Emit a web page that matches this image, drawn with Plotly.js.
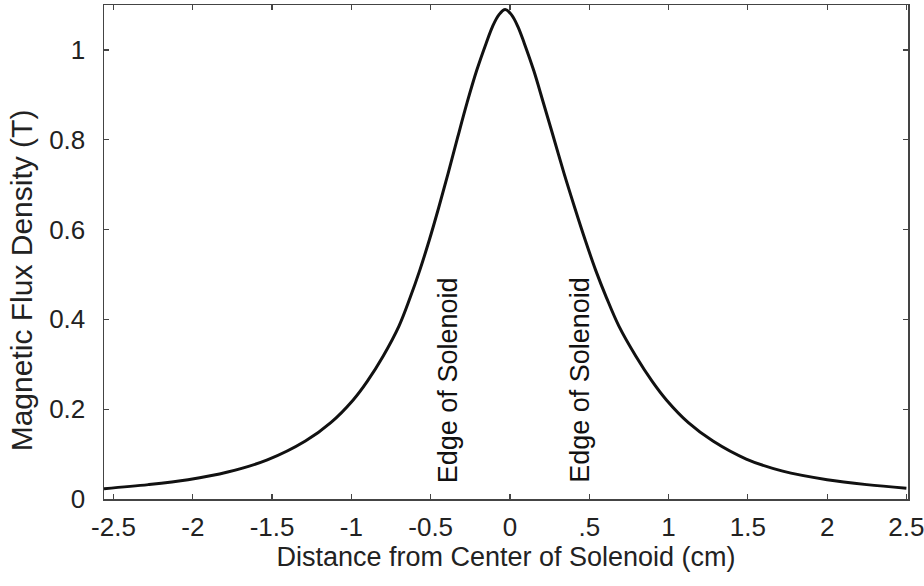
<!DOCTYPE html>
<html>
<head>
<meta charset="utf-8">
<script src="https://cdn.plot.ly/plotly-3.0.1.min.js"></script>
<style>html,body{margin:0;padding:0;background:#fff;}#chart{width:924px;height:586px;}</style>
</head>
<body>
<div id="chart"></div>
<script>
const distanceCm = [-2.56,-2.28,-2.03,-1.78,-1.53,-1.29,-1.13,-0.99,-0.90,-0.80,-0.70,-0.63,-0.57,-0.51,-0.45,-0.39,-0.33,-0.27,-0.21,-0.15,-0.11,-0.07,-0.03,
                    0.01,0.05,0.09,0.15,0.21,0.275,0.341,0.409,0.476,0.542,0.609,0.687,0.794,0.897,0.988,1.125,1.28,1.49,1.72,2.00,2.25,2.50];
const fluxDensityT = [0.023,0.032,0.043,0.060,0.087,0.129,0.170,0.220,0.262,0.318,0.385,0.448,0.508,0.575,0.648,0.725,0.805,0.883,0.954,1.015,1.052,1.078,1.090,
                      1.078,1.052,1.015,0.954,0.883,0.805,0.725,0.648,0.575,0.508,0.448,0.385,0.318,0.262,0.220,0.170,0.129,0.089,0.062,0.043,0.032,0.024];
const xTickVals = [-2.5,-2,-1.5,-1,-0.5,0,0.5,1,1.5,2,2.5];
const xTickText = ['-2.5','-2','-1.5','-1','-0.5','0','.5','1','1.5','2','2.5'];
const yTickVals = [0,0.2,0.4,0.6,0.8,1];
const yTickText = ['0','0.2','0.4','0.6','0.8','1'];
const edgeLabels = ['Edge of Solenoid','Edge of Solenoid'];
const edgePositions = [-0.39,0.44];
const yTitle = 'Magnetic Flux Density (T)';
const xTitle = 'Distance from Center of Solenoid (cm)';

const fontFam = '"Liberation Sans", Arial, sans-serif';
const trace = {
  x: distanceCm, y: fluxDensityT, type: 'scatter', mode: 'lines',
  line: {color: '#111', width: 3, shape: 'spline', smoothing: 1},
  hoverinfo: 'skip'
};
const axisCommon = {
  showgrid: false, zeroline: false, showline: true, mirror: 'ticks',
  linecolor: '#444', linewidth: 1.5, ticks: 'inside', ticklen: 5, tickwidth: 1.2, tickcolor: '#444',
  ticklabeloverflow: 'allow'
};
const annotations = edgeLabels.map((t, i) => ({
  x: edgePositions[i], y: 0.031, xref: 'x', yref: 'y', text: t, showarrow: false,
  textangle: -90, xanchor: 'center', yanchor: 'bottom',
  font: {family: fontFam, size: 27, color: '#111'}
}));
annotations.push({
  x: -0.103, y: 0.443, xref: 'paper', yref: 'paper', text: yTitle, showarrow: false,
  textangle: -90, xanchor: 'center', yanchor: 'middle',
  font: {family: fontFam, size: 30, color: '#222'}
});
const layout = {
  width: 924, height: 586,
  margin: {l: 104, r: 16, t: 5, b: 87},
  paper_bgcolor: '#fff', plot_bgcolor: '#fff',
  showlegend: false,
  font: {family: fontFam, color: '#222'},
  xaxis: Object.assign({}, axisCommon, {
    range: [-2.56, 2.51], tickmode: 'array', tickvals: xTickVals, ticktext: xTickText,
    tickfont: {family: fontFam, size: 26, color: '#222'}, ticklabelstandoff: 4,
    title: {text: xTitle, font: {family: fontFam, size: 27, color: '#222'}, standoff: 5}
  }),
  yaxis: Object.assign({}, axisCommon, {
    range: [0, 1.1], tickmode: 'array', tickvals: yTickVals, ticktext: yTickText,
    tickfont: {family: fontFam, size: 26, color: '#222'}, ticklabelstandoff: 12
  }),
  annotations: annotations
};
Plotly.newPlot('chart', [trace], layout, {displayModeBar: false, staticPlot: true});
</script>
</body>
</html>
